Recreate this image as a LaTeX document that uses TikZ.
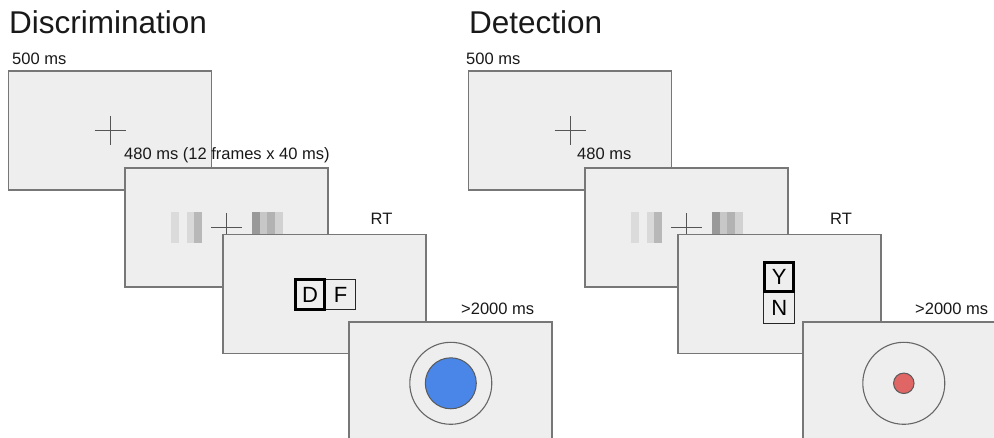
\documentclass[tikz,border=0pt]{standalone}
\usepackage{fontspec}
\setmainfont{Liberation Sans}
\usetikzlibrary{positioning, calc}
\definecolor{screenbg}{HTML}{EEEEEE}
\definecolor{screenedge}{HTML}{777777}
\definecolor{crossline}{HTML}{555555}
\definecolor{targetblue}{HTML}{4A86E8}
\definecolor{targetred}{HTML}{E06666}
\tikzset{
    screen/.style={
        rectangle, minimum width=203pt, minimum height=119pt, inner sep=0pt,
        fill=screenbg, draw=screenedge, line width=1.2pt
    },
    title/.style={
        anchor=base west, inner sep=0pt, text=black!90,
        font=\fontsize{31.5}{36}\selectfont
    },
    timing/.style={
        anchor=base west, inner sep=0pt, text=black!90,
        font=\fontsize{16.5}{20}\selectfont
    },
    fixation/.style={
        draw=crossline, line width=0.9pt
    },
    keybox/.style={
        rectangle, draw=black!85, line width=1pt, inner sep=0pt,
        minimum size=30.5pt, font=\fontsize{22}{26}\selectfont
    },
    chosen/.style={
        draw=black, line width=3pt, minimum size=29.5pt
    },
    ring/.style={
        circle, draw=black!60, line width=1.1pt, minimum size=82pt, inner sep=0pt
    },
    dot/.style={
        circle, draw=black!65, line width=1pt, inner sep=0pt
    }
}
% plus sign in the middle of a screen
\newcommand{\screencross}[1]{%
    \draw[fixation] ($(#1)+(-15.5,0)$) -- ($(#1)+(15.5,0)$);
    \draw[fixation] ($(#1)+(0,-14.5)$) -- ($(#1)+(0,14.5)$);
}
% grey bars left and right of the cross
\newcommand{\screenbars}[1]{%
    \foreach \lo/\hi/\tone in {-56/-48/14, -40/-33/15, -33/-25/28,
                               25/33/40, 33/40/22, 40/48/30, 48/56/18}
        \fill[black!\tone] ($(#1)+(\lo,-15.5)$) rectangle ($(#1)+(\hi,15.5)$);
}

\begin{document}
\begin{tikzpicture}[x=1pt, y=-1pt]

    \clip (0,0) rectangle (994,438);
    \fill[white] (0,0) rectangle (994,438);

    % --- discrimination ---
    \node[title] (dtitle) at (9,34) {Discrimination};
    \node[timing] (dlab1) at (12,65) {500 ms};
    \node[screen] (d1) at (110,130.5) {};
    \screencross{d1}
    \node[timing] (dlab2) at (124,160) {480 ms (12 frames x 40 ms)};

    \node[screen] (d2) at (226.5,227.5) {};
    \screenbars{d2}
    \screencross{d2}
    \node[timing] (dlab3) at (370.5,225) {RT};

    \node[screen] (d3) at (324.5,294) {};
    \node[keybox] (fkey) at (340.5,294.6) {F};
    \node[keybox, chosen] (dkey) at (310,294.6) {D};
    \node[timing] (dlab4) at (461,315) {>2000 ms};

    \node[screen] (d4) at (450.5,381.5) {};
    \node[ring] (dring) at (450.8,383.3) {};
    \node[dot, fill=targetblue, minimum size=51pt] (dtarget) at (dring) {};

    % --- detection ---
    \node[title] (ttitle) at (469,34) {Detection};
    \node[timing] (tlab1) at (466,65) {500 ms};
    \node[screen] (t1) at (570,130.5) {};
    \screencross{t1}
    \node[timing] (tlab2) at (577,160) {480 ms};

    \node[screen] (t2) at (686.5,227.5) {};
    \screenbars{t2}
    \screencross{t2}
    \node[timing] (tlab3) at (830,225) {RT};

    \node[screen] (t3) at (779.5,294) {};
    \node[keybox] (nkey) at (779.2,308) {N};
    \node[keybox, chosen] (ykey) at (779.2,277.2) {Y};
    \node[timing] (tlab4) at (915,315) {>2000 ms};

    \node[screen] (t4) at (904.5,381.5) {};
    \node[ring] (tring) at (903.8,383.3) {};
    \node[dot, fill=targetred, minimum size=20.5pt] (ttarget) at (tring) {};

\end{tikzpicture}
\end{document}
